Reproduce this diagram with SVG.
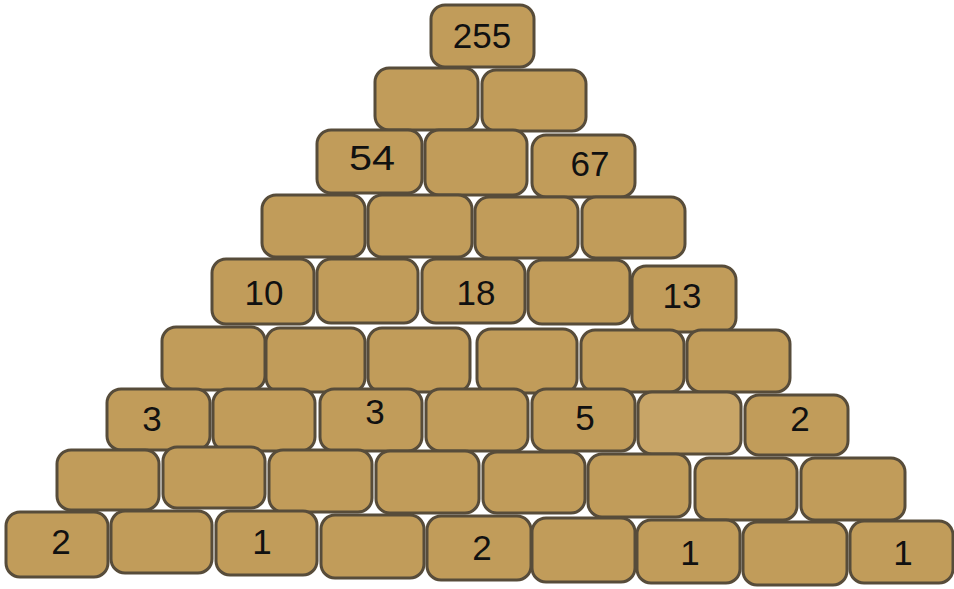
<svg xmlns="http://www.w3.org/2000/svg" width="954" height="589" viewBox="0 0 954 589">
<style>
.b{fill:#c19c5a;stroke:#574c3a;stroke-width:3}
.l{fill:#c8a567}
text{font-family:"Liberation Sans",Arial,sans-serif;font-size:35px;fill:#111;text-anchor:middle}
</style>
<rect width="954" height="589" fill="#fff"/>
<g id="row1">
<g id="b1_1"><rect class="b" x="431" y="5" width="103" height="62" rx="14"/><text x="482" y="48">255</text></g>
</g>
<g id="row2">
<g id="b2_1"><rect class="b" x="375" y="68" width="103" height="62" rx="14"/></g>
<g id="b2_2"><rect class="b" x="482" y="70" width="104" height="61" rx="14"/></g>
</g>
<g id="row3">
<g id="b3_1"><rect class="b" x="317" y="130" width="105" height="63" rx="14"/><text x="372" y="170" font-size="28" textLength="46" lengthAdjust="spacingAndGlyphs">54</text></g>
<g id="b3_2"><rect class="b" x="425" y="130" width="102" height="65" rx="14"/></g>
<g id="b3_3"><rect class="b" x="532" y="135" width="103" height="62" rx="14"/><text x="590" y="176">67</text></g>
</g>
<g id="row4">
<g id="b4_1"><rect class="b" x="262" y="195" width="103" height="62" rx="14"/></g>
<g id="b4_2"><rect class="b" x="368" y="195" width="104" height="62" rx="14"/></g>
<g id="b4_3"><rect class="b" x="475" y="197" width="103" height="61" rx="14"/></g>
<g id="b4_4"><rect class="b" x="582" y="197" width="103" height="61" rx="14"/></g>
</g>
<g id="row5">
<g id="b5_1"><rect class="b" x="212" y="259" width="102" height="65" rx="14"/><text x="264" y="305">10</text></g>
<g id="b5_2"><rect class="b" x="317" y="259" width="101" height="64" rx="14"/></g>
<g id="b5_3"><rect class="b" x="422" y="259" width="103" height="64" rx="14"/><text x="476" y="305">18</text></g>
<g id="b5_4"><rect class="b" x="528" y="260" width="102" height="64" rx="14"/></g>
<g id="b5_5"><rect class="b" x="632" y="266" width="104" height="66" rx="14"/><text x="682" y="308">13</text></g>
</g>
<g id="row6">
<g id="b6_1"><rect class="b" x="162" y="327" width="103" height="63" rx="14"/></g>
<g id="b6_2"><rect class="b" x="266" y="328" width="99" height="64" rx="14"/></g>
<g id="b6_3"><rect class="b" x="368" y="328" width="102" height="64" rx="14"/></g>
<g id="b6_4"><rect class="b" x="477" y="329" width="100" height="64" rx="14"/></g>
<g id="b6_5"><rect class="b" x="581" y="330" width="103" height="62" rx="14"/></g>
<g id="b6_6"><rect class="b" x="687" y="330" width="103" height="62" rx="14"/></g>
</g>
<g id="row7">
<g id="b7_1"><rect class="b" x="107" y="389" width="103" height="61" rx="14"/><text x="152" y="431">3</text></g>
<g id="b7_2"><rect class="b" x="213" y="389" width="102" height="62" rx="14"/></g>
<g id="b7_3"><rect class="b" x="320" y="389" width="102" height="62" rx="14"/><text x="375" y="424">3</text></g>
<g id="b7_4"><rect class="b" x="426" y="389" width="102" height="62" rx="14"/></g>
<g id="b7_5"><rect class="b" x="532" y="389" width="103" height="62" rx="14"/><text x="585" y="430">5</text></g>
<g id="b7_6"><rect class="b l" x="638" y="392" width="103" height="62" rx="14"/></g>
<g id="b7_7"><rect class="b" x="745" y="395" width="103" height="60" rx="14"/><text x="800" y="431">2</text></g>
</g>
<g id="row8">
<g id="b8_1"><rect class="b" x="57" y="450" width="102" height="60" rx="14"/></g>
<g id="b8_2"><rect class="b" x="163" y="447" width="102" height="61" rx="14"/></g>
<g id="b8_3"><rect class="b" x="269" y="450" width="103" height="62" rx="14"/></g>
<g id="b8_4"><rect class="b" x="376" y="451" width="103" height="62" rx="14"/></g>
<g id="b8_5"><rect class="b" x="483" y="452" width="102" height="61" rx="14"/></g>
<g id="b8_6"><rect class="b" x="588" y="454" width="102" height="63" rx="14"/></g>
<g id="b8_7"><rect class="b" x="695" y="458" width="102" height="62" rx="14"/></g>
<g id="b8_8"><rect class="b" x="801" y="458" width="104" height="62" rx="14"/></g>
</g>
<g id="row9">
<g id="b9_1"><rect class="b" x="6" y="512" width="102" height="65" rx="14"/><text x="61" y="554">2</text></g>
<g id="b9_2"><rect class="b" x="111" y="511" width="101" height="62" rx="14"/></g>
<g id="b9_3"><rect class="b" x="216" y="511" width="101" height="64" rx="14"/><text x="262" y="554">1</text></g>
<g id="b9_4"><rect class="b" x="321" y="515" width="103" height="63" rx="14"/></g>
<g id="b9_5"><rect class="b" x="427" y="516" width="104" height="64" rx="14"/><text x="482" y="560">2</text></g>
<g id="b9_6"><rect class="b" x="532" y="518" width="103" height="64" rx="14"/></g>
<g id="b9_7"><rect class="b" x="637" y="520" width="103" height="63" rx="14"/><text x="690" y="565">1</text></g>
<g id="b9_8"><rect class="b" x="743" y="522" width="104" height="63" rx="14"/></g>
<g id="b9_9"><rect class="b" x="850" y="521" width="103" height="62" rx="14"/><text x="903" y="565">1</text></g>
</g>
</svg>
